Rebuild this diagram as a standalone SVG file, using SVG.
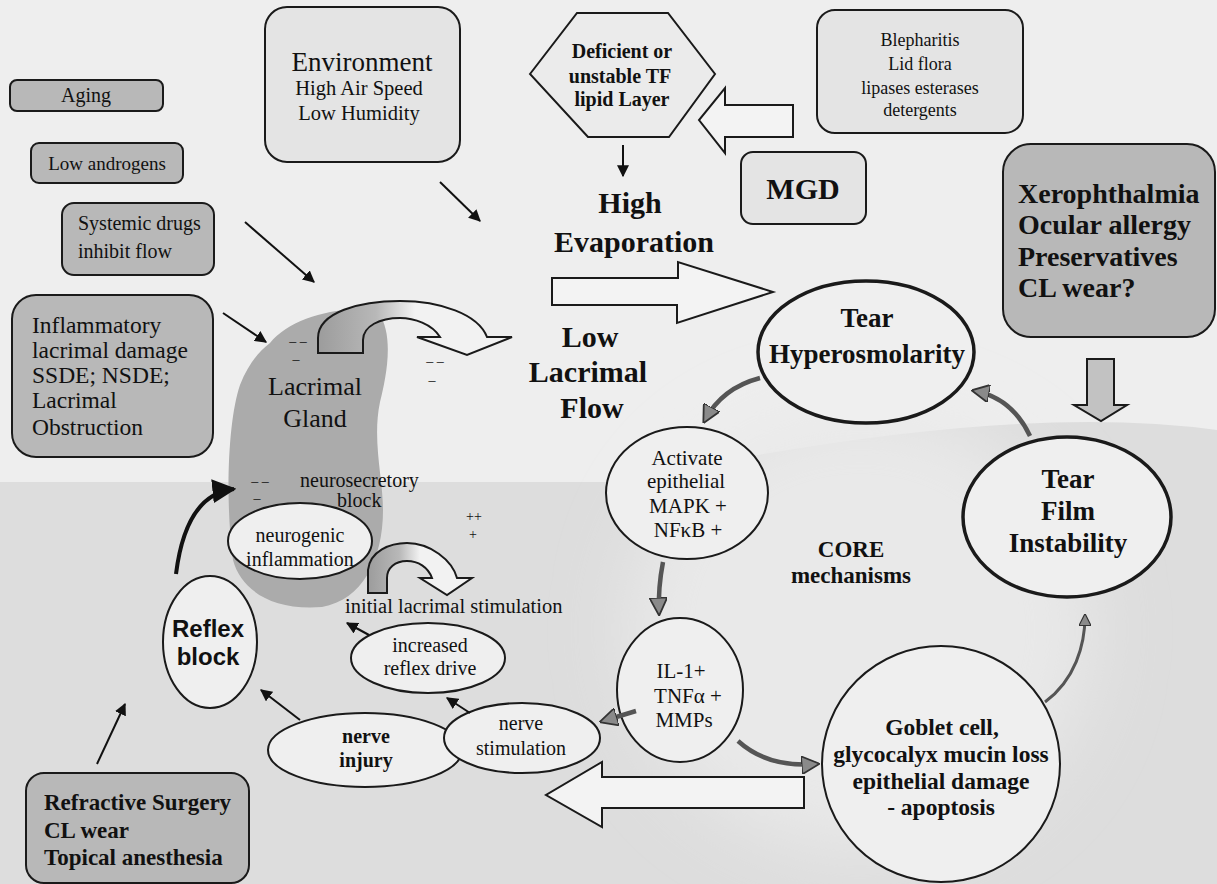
<svg xmlns="http://www.w3.org/2000/svg" width="1217" height="884" viewBox="0 0 1217 884">
<defs>
<style>
.t{font-family:"Liberation Serif","Times New Roman",serif;fill:#111}
.b{font-weight:bold}
.s{font-family:"Liberation Sans",Arial,sans-serif;font-weight:bold;fill:#111}
.box{stroke:#1a1a1a;stroke-width:2}
.dk{fill:#b8b8b8}
.lt{fill:#e4e4e4}
.el{fill:#efefef;stroke:#1a1a1a;stroke-width:2}
.el3{fill:#efefef;stroke:#1a1a1a;stroke-width:3.5}
.hol{fill:#f3f3f3;stroke:#1a1a1a;stroke-width:2;stroke-linejoin:miter}
.ar{fill:none;stroke:#111;stroke-width:2;marker-end:url(#ah)}
.ga{fill:none;stroke:#555;stroke-width:4.5;marker-end:url(#gh)}
</style>
<marker id="ah" viewBox="0 0 10 10" refX="9" refY="5" markerWidth="6" markerHeight="6" orient="auto" markerUnits="strokeWidth">
<path d="M0,0 L10,5 L0,10 Z" fill="#111"/>
</marker>
<marker id="gh" viewBox="0 0 10 10" refX="8" refY="5" markerWidth="4" markerHeight="4" orient="auto" markerUnits="strokeWidth">
<path d="M0,0 L10,5 L0,10 Z" fill="#8a8a8a" stroke="#333" stroke-width="1"/>
</marker>
<linearGradient id="cg" x1="0" y1="0" x2="1" y2="0">
<stop offset="0" stop-color="#9c9c9c"/>
<stop offset="0.3" stop-color="#b8b8b8"/>
<stop offset="0.5" stop-color="#f2f2f2"/>
<stop offset="1" stop-color="#f2f2f2"/>
</linearGradient>
<filter id="bl" x="-50%" y="-50%" width="200%" height="200%"><feGaussianBlur stdDeviation="35"/></filter>
</defs>

<g id="background">
<rect x="0" y="0" width="1217" height="884" fill="#eeeeee"/>
<path d="M0,482 L620,482 Q1000,400 1217,430 L1217,884 L0,884 Z" fill="#dddddd"/>
<ellipse cx="860" cy="630" rx="230" ry="220" fill="#e9e9e9" filter="url(#bl)"/>
</g>

<g id="lacrimal-gland">
<path d="M270,343 C290,318 340,304 378,312 C395,335 386,378 380,402 C372,440 383,478 383,510 C383,560 362,600 322,607 C272,611 241,590 233,560 C225,500 228,420 240,385 C248,365 258,352 270,343 Z" fill="#ababab"/>
<text class="t" x="315" y="395" font-size="26" text-anchor="middle">Lacrimal</text>
<text class="t" x="315" y="427" font-size="26" text-anchor="middle">Gland</text>
<text class="t" x="298" y="346" font-size="14" text-anchor="middle">– –</text>
<text class="t" x="296" y="364" font-size="14" text-anchor="middle">–</text>
<text class="t" x="260" y="486" font-size="14" text-anchor="middle">– –</text>
<text class="t" x="257" y="503" font-size="14" text-anchor="middle">–</text>
</g>

<g id="gland-flow-arrow">
<path d="M318,353 L318,338 C318,312 360,301 400,301 C440,301 478,314 487,337 L512,337 L467,355 L417,337 L440,337 C432,324 414,318 400,318 C380,318 363,326 363,340 L363,353 Z" fill="url(#cg)" stroke="#1a1a1a" stroke-width="2" stroke-linejoin="miter"/>
<text class="t" x="435" y="366" font-size="14" text-anchor="middle">– –</text>
<text class="t" x="432" y="385" font-size="14" text-anchor="middle">–</text>
</g>

<g id="stimulation-arrow">
<path d="M368,593 L368,570 C370,551 390,543 407,543 C430,543 452,560 457,578 L472,578 L447,595 L420,578 L432,578 C428,567 418,561 407,561 C395,561 387,568 387,578 L387,593 Z" fill="url(#cg)" stroke="#1a1a1a" stroke-width="2"/>
<text class="t" x="474" y="521" font-size="14" text-anchor="middle">++</text>
<text class="t" x="473" y="539" font-size="14" text-anchor="middle">+</text>
</g>

<g id="aging"><rect class="box dk" x="10" y="80" width="153" height="31" rx="7"/><text class="t" x="86" y="102" font-size="20" text-anchor="middle">Aging</text></g>
<g id="low-androgens"><rect class="box dk" x="31" y="143" width="152" height="40" rx="8"/><text class="t" x="107" y="170" font-size="19" text-anchor="middle">Low androgens</text></g>
<g id="systemic-drugs"><rect class="box dk" x="62" y="203" width="152" height="72" rx="12"/><text class="t" x="78" y="230" font-size="20">Systemic drugs</text><text class="t" x="78" y="258" font-size="20">inhibit flow</text></g>
<g id="inflammatory"><rect class="box dk" x="12" y="295" width="201" height="162" rx="24"/>
<text class="t" x="32" y="333" font-size="23.5">Inflammatory</text>
<text class="t" x="32" y="358" font-size="23.5">lacrimal damage</text>
<text class="t" x="32" y="383" font-size="23.5">SSDE; NSDE;</text>
<text class="t" x="32" y="408" font-size="23.5">Lacrimal</text>
<text class="t" x="32" y="435" font-size="23.5">Obstruction</text></g>
<g id="environment"><rect class="box lt" x="265" y="7" width="195" height="155" rx="22"/>
<text class="t" x="362" y="71" font-size="27" text-anchor="middle">Environment</text>
<text class="t" x="359" y="95" font-size="20.5" text-anchor="middle">High Air Speed</text>
<text class="t" x="359" y="120" font-size="20.5" text-anchor="middle">Low Humidity</text></g>
<g id="lipid-layer"><polygon points="530,74 577,13 668,13 715,74 669,137 588,137" fill="#ebebeb" stroke="#1a1a1a" stroke-width="2"/>
<text class="t b" x="622" y="58" font-size="20" text-anchor="middle">Deficient or</text>
<text class="t b" x="620" y="83" font-size="20" text-anchor="middle">unstable TF</text>
<text class="t b" x="622" y="106" font-size="20" text-anchor="middle">lipid Layer</text></g>
<g id="blepharitis"><rect class="box lt" x="817" y="10" width="206" height="123" rx="18"/>
<text class="t" x="920" y="46" font-size="18" text-anchor="middle">Blepharitis</text>
<text class="t" x="920" y="70" font-size="18" text-anchor="middle">Lid flora</text>
<text class="t" x="920" y="94" font-size="18" text-anchor="middle">lipases esterases</text>
<text class="t" x="920" y="116" font-size="18" text-anchor="middle">detergents</text></g>
<g id="mgd"><rect class="box lt" x="741" y="152" width="125" height="72" rx="12"/><text class="t b" x="803" y="199" font-size="30" text-anchor="middle">MGD</text></g>
<g id="high-evaporation"><text class="t b" x="630" y="213" font-size="30" text-anchor="middle">High</text><text class="t b" x="634" y="252" font-size="30" text-anchor="middle">Evaporation</text></g>
<g id="low-lacrimal-flow"><text class="t b" x="590" y="347" font-size="30" text-anchor="middle">Low</text><text class="t b" x="588" y="382" font-size="30" text-anchor="middle">Lacrimal</text><text class="t b" x="592" y="418" font-size="30" text-anchor="middle">Flow</text></g>
<g id="xerophthalmia"><rect class="box dk" x="1003" y="144" width="212" height="193" rx="28"/>
<text class="t b" x="1018" y="203" font-size="28">Xerophthalmia</text>
<text class="t b" x="1018" y="234" font-size="28">Ocular allergy</text>
<text class="t b" x="1018" y="266" font-size="28">Preservatives</text>
<text class="t b" x="1018" y="297" font-size="28">CL wear?</text></g>
<g id="tear-hyperosmolarity"><ellipse class="el3" cx="866" cy="352" rx="108" ry="71"/>
<text class="t b" x="867" y="327" font-size="27" text-anchor="middle">Tear</text>
<text class="t b" x="867" y="363" font-size="27" text-anchor="middle">Hyperosmolarity</text></g>
<g id="tear-film-instability"><ellipse class="el3" cx="1067" cy="517" rx="104" ry="80"/>
<text class="t b" x="1068" y="488" font-size="27" text-anchor="middle">Tear</text>
<text class="t b" x="1068" y="520" font-size="27" text-anchor="middle">Film</text>
<text class="t b" x="1068" y="552" font-size="27" text-anchor="middle">Instability</text></g>
<g id="activate-epithelial"><ellipse class="el" cx="687" cy="493" rx="81" ry="66"/>
<text class="t" x="687" y="465" font-size="21" text-anchor="middle">Activate</text>
<text class="t" x="686" y="488" font-size="21" text-anchor="middle">epithelial</text>
<text class="t" x="688" y="513" font-size="21" text-anchor="middle">MAPK +</text>
<text class="t" x="688" y="537" font-size="21" text-anchor="middle">NFκB +</text></g>
<g id="core-mechanisms"><text class="t b" x="851" y="557" font-size="23" text-anchor="middle">CORE</text><text class="t b" x="851" y="583" font-size="23" text-anchor="middle">mechanisms</text></g>
<g id="cytokines"><ellipse class="el" cx="680" cy="690" rx="63" ry="72"/>
<text class="t" x="681" y="678" font-size="21" text-anchor="middle">IL-1+</text>
<text class="t" x="688" y="703" font-size="21" text-anchor="middle">TNFα +</text>
<text class="t" x="684" y="727" font-size="21" text-anchor="middle">MMPs</text></g>
<g id="goblet-cell"><ellipse class="el" cx="941" cy="764" rx="119" ry="118"/>
<text class="t b" x="942" y="735" font-size="23.5" text-anchor="middle">Goblet cell,</text>
<text class="t b" x="941" y="762" font-size="23.5" text-anchor="middle">glycocalyx mucin loss</text>
<text class="t b" x="941" y="789" font-size="23.5" text-anchor="middle">epithelial damage</text>
<text class="t b" x="941" y="815" font-size="23.5" text-anchor="middle">- apoptosis</text></g>
<g id="neurogenic-inflammation"><ellipse class="el" cx="300" cy="541" rx="72" ry="38"/>
<text class="t" x="300" y="542" font-size="20" text-anchor="middle">neurogenic</text>
<text class="t" x="300" y="566" font-size="20" text-anchor="middle">inflammation</text></g>
<g id="neurosecretory-block"><text class="t" x="300" y="487" font-size="20">neurosecretory</text><text class="t" x="337" y="507" font-size="20">block</text></g>
<g id="initial-stimulation"><text class="t" x="345" y="613" font-size="20.5">initial lacrimal stimulation</text></g>
<g id="reflex-block"><ellipse class="el" cx="210" cy="642" rx="47" ry="66"/>
<text class="s" x="208" y="637" font-size="24" text-anchor="middle">Reflex</text>
<text class="s" x="208" y="665" font-size="24" text-anchor="middle">block</text></g>
<g id="increased-reflex-drive"><ellipse class="el" cx="428" cy="658" rx="77" ry="35"/>
<text class="t" x="430" y="652" font-size="20" text-anchor="middle">increased</text>
<text class="t" x="430" y="675" font-size="20" text-anchor="middle">reflex drive</text></g>
<g id="nerve-injury"><ellipse class="el" cx="365" cy="750" rx="97" ry="37"/>
<text class="t b" x="366" y="743" font-size="20" text-anchor="middle">nerve</text>
<text class="t b" x="366" y="767" font-size="20" text-anchor="middle">injury</text></g>
<g id="nerve-stimulation"><ellipse class="el" cx="522" cy="738" rx="78" ry="35"/>
<text class="t" x="521" y="730" font-size="20" text-anchor="middle">nerve</text>
<text class="t" x="521" y="755" font-size="20" text-anchor="middle">stimulation</text></g>
<g id="refractive-surgery"><rect class="box dk" x="26" y="773" width="223" height="110" rx="18"/>
<text class="t b" x="44" y="810" font-size="23">Refractive Surgery</text>
<text class="t b" x="44" y="838" font-size="23">CL wear</text>
<text class="t b" x="44" y="865" font-size="23">Topical anesthesia</text></g>

<g id="connectors">
<path class="ar" d="M440,182 L480,221"/>
<path class="ar" d="M245,222 L314,282"/>
<path class="ar" d="M223,313 L266,342"/>
<path class="ar" d="M623,145 L623,176"/>
<path class="hol" d="M552,278 L678,278 L678,262 L773,292 L677,323 L677,305 L552,305 Z"/>
<path class="hol" d="M793,105 L725,105 L725,88 L699,120 L725,153 L725,137 L793,137 Z"/>
<path class="hol" d="M804,777 L602,777 L602,762 L546,795 L602,827 L602,808 L804,808 Z"/>
<path d="M1087,359 L1114,359 L1114,405 L1127,405 L1101,421 L1074,405 L1087,405 Z" fill="#c2c2c2" stroke="#1a1a1a" stroke-width="2"/>
<path class="ga" d="M760,378 Q722,388 705,420"/>
<path class="ga" d="M1030,436 Q1012,398 975,391"/>
<path class="ga" d="M663,562 Q658,588 659,612"/>
<path class="ga" d="M738,741 Q768,768 816,764"/>
<path class="ga" d="M636,711 L603,721"/>
<path class="ga" d="M1045,702 C1075,680 1085,645 1085,616" style="stroke-width:3"/>
<path class="ar" d="M470,713 L447,698"/>
<path class="ar" d="M369,635 L347,623"/>
<path class="ar" d="M300,720 L261,690"/>
<path class="ar" d="M97,764 L125,704"/>
<path class="ar" d="M176,574 Q186,494 234,489" style="stroke-width:4"/>
</g>
</svg>
